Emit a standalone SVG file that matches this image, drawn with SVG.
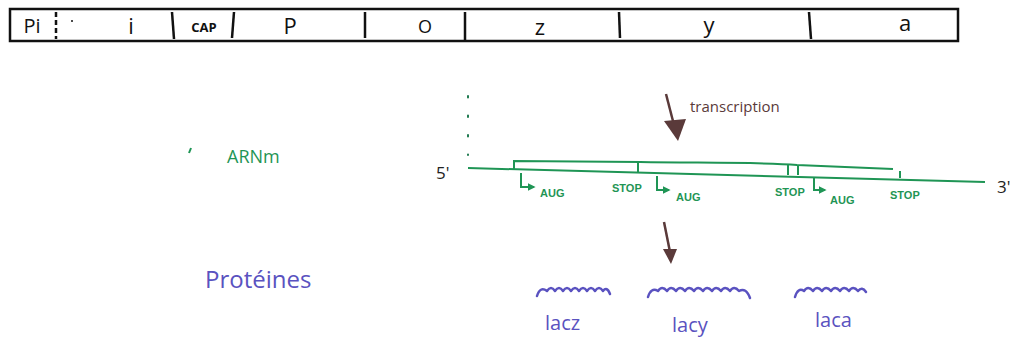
<svg xmlns="http://www.w3.org/2000/svg" width="1016" height="339" viewBox="0 0 1016 339">
<style>
.bar{fill:none;stroke:#111;stroke-width:2.5}
.div{stroke:#111;stroke-width:2.5}
.gl{font-family:"Open Sans","Liberation Sans",sans-serif;fill:#111;text-anchor:middle}
.g{stroke:#1f9555;stroke-width:2;fill:none}
.gt{font-family:"Liberation Sans",sans-serif;fill:#1f9555;font-size:11px;font-weight:bold}
.br{stroke:#5a3a3a;stroke-width:2.5;fill:none}
.bl{stroke:#5a52c0;stroke-width:2.5;fill:none;stroke-linecap:round;stroke-linejoin:round}
.blt{font-family:"Open Sans","Liberation Sans",sans-serif;fill:#5a52c0}
</style>
<defs>
<marker id="ga" viewBox="0 0 10 10" refX="8" refY="5" markerWidth="4" markerHeight="4" orient="auto"><path d="M0,0L10,5L0,10z" fill="#1f9555"/></marker>
</defs>
<rect width="1016" height="339" fill="#fff"/>
<g id="operon">
<rect class="bar" x="10" y="9" width="948" height="32"/>
<line class="div" x1="56" y1="12" x2="56" y2="39" stroke-dasharray="5,3"/>
<line class="div" x1="172" y1="12" x2="174" y2="39"/>
<line class="div" x1="234" y1="12" x2="232" y2="38"/>
<line class="div" x1="365" y1="12" x2="365" y2="38"/>
<line class="div" x1="465" y1="12" x2="465" y2="40"/>
<line class="div" x1="619" y1="12" x2="620" y2="38"/>
<line class="div" x1="809" y1="12" x2="811" y2="39"/>
<circle cx="72" cy="21" r="1" fill="#111"/>
<text class="gl" x="32" y="33" font-size="20">Pi</text>
<text class="gl" x="131" y="34" font-size="22">i</text>
<text class="gl" x="204" y="32" font-size="13" font-weight="bold">CAP</text>
<text class="gl" x="290" y="34" font-size="22">P</text>
<text class="gl" x="425" y="33" font-size="18">O</text>
<text class="gl" x="540" y="35" font-size="22">z</text>
<text class="gl" x="709" y="33" font-size="22">y</text>
<text class="gl" x="905" y="31" font-size="22">a</text>
</g>
<g id="arnm-label">
<line x1="191" y1="148" x2="189" y2="153" stroke="#1f9555" stroke-width="2"/>
<text x="227" y="163" font-family="Open Sans,Liberation Sans,sans-serif" font-size="18" fill="#1f9555">ARNm</text>
</g>
<g id="proteines-label">
<text class="blt" x="205" y="288" font-size="24">Protéines</text>
</g>
<g id="mrna">
<line x1="468" y1="96" x2="468" y2="155" stroke="#1f7a50" stroke-width="2" stroke-dasharray="1.5,18" stroke-linecap="round"/>
<text x="436" y="179" font-family="Open Sans,Liberation Sans,sans-serif" font-size="17" fill="#222">5'</text>
<text x="997" y="193" font-family="Open Sans,Liberation Sans,sans-serif" font-size="17" fill="#222">3'</text>
<line class="g" x1="468" y1="168" x2="985" y2="182"/>
<path class="g" stroke-width="2.5" d="M514,169 L514,161 L640,162 C700,163 760,162 797,165 L893,169"/>
<path class="g" d="M638,162 L638,172 M788,164 L788,175 M798,165 L798,175 M900,171 L900,178"/>
<path class="g" d="M521,173 L521,187 L534,187" marker-end="url(#ga)"/>
<path class="g" d="M657,176 L657,190 L669,190" marker-end="url(#ga)"/>
<path class="g" d="M814,177 L814,190 L825,190" marker-end="url(#ga)"/>
<text class="gt" x="540" y="197">AUG</text>
<text class="gt" x="676" y="201">AUG</text>
<text class="gt" x="830" y="204">AUG</text>
<text class="gt" x="612" y="192">STOP</text>
<text class="gt" x="775" y="196">STOP</text>
<text class="gt" x="890" y="199">STOP</text>
</g>
<g id="connectors">
<line class="br" x1="666" y1="94" x2="674" y2="125"/>
<path d="M664,121 L686,119 L678,141 z" fill="#5a3a3a"/>
<text x="690" y="112" font-family="Open Sans,Liberation Sans,sans-serif" font-size="15" fill="#5a3a3a">transcription</text>
<line class="br" stroke-width="2" x1="664" y1="222" x2="670" y2="252"/>
<path d="M663,249 L677,249 L671,264 z" fill="#5a3a3a"/>
</g>
<g id="lacz">
<path class="bl" d="M537,296 q3,-10 10,-5 q4,-6 8,0 q4,-6 8,0 q4,-6 8,0 q4,-6 8,0 q4,-6 8,0 q4,-6 8,0 q4,-6 8,0 q4,-5 7,3"/>
<text class="blt" x="545" y="330" font-size="20">lacz</text>
</g>
<g id="lacy">
<path class="bl" d="M648,297 q3,-10 10,-6 q4,-6 9,0 q4,-6 9,0 q4,-6 9,0 q4,-6 9,0 q4,-6 9,0 q4,-6 9,0 q4,-6 9,0 q4,-6 9,0 q4,-6 9,0 q7,-4 11,7"/>
<text class="blt" x="672" y="332" font-size="20">lacy</text>
</g>
<g id="laca">
<path class="bl" d="M795,297 q3,-10 9,-6 q4,-6 9,0 q4,-6 9,0 q4,-6 9,0 q4,-6 9,0 q4,-6 9,0 q4,-6 9,0 q4,-5 8,1"/>
<text class="blt" x="815" y="327" font-size="20">laca</text>
</g>
</svg>
